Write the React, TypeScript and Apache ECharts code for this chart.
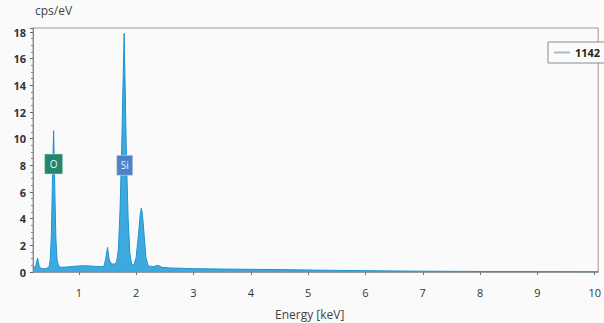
import React, { useEffect, useRef } from "react";
import * as echarts from "echarts";

const seriesName = "1142";
const energy = [
  0.2, 0.22, 0.25, 0.28, 0.31, 0.35, 0.4, 0.45, 0.48, 0.5, 0.52, 0.535, 0.55, 0.56, 0.57, 0.585, 0.6, 0.62, 0.65,
  0.7, 0.8, 0.9, 1.0, 1.1, 1.2, 1.3, 1.4, 1.44, 1.47, 1.5, 1.53, 1.57, 1.62, 1.66, 1.69, 1.72, 1.75, 1.77, 1.79,
  1.81, 1.83, 1.86, 1.89, 1.92, 1.96, 2.0, 2.04, 2.07, 2.09, 2.11, 2.14, 2.17, 2.21, 2.3, 2.38, 2.45, 2.6, 3.0,
  3.5, 4.0, 4.5, 5.0, 5.5, 6.0, 7.0, 8.0, 9.0, 10.0, 10.06,
];
const cps = [
  0.25, 0.3, 0.5, 1.05, 0.4, 0.25, 0.25, 0.3, 0.4, 0.9, 2.7, 5.8, 8.9, 10.6, 8.6, 5.2, 2.4, 0.9, 0.4,
  0.35, 0.38, 0.42, 0.45, 0.47, 0.45, 0.42, 0.4, 0.45, 1.0, 1.85, 0.9, 0.6, 0.6, 0.75, 1.7, 4.8, 9.8, 14, 17.9,
  13.5, 8.5, 4.0, 1.4, 0.6, 0.5, 1.1, 2.8, 4.3, 4.8, 4.3, 2.7, 1.1, 0.45, 0.4, 0.5, 0.35, 0.3, 0.25,
  0.22, 0.2, 0.18, 0.15, 0.12, 0.1, 0.06, 0.04, 0.03, 0.02, 0.02,
];
const elements = ["O", "Si"];
const elementEnergy = [0.56, 1.8];
const elementY = [8.1, 8.0];
const elementColors = ["#23876a", "#4a84c6"];
const xTicks = [1, 2, 3, 4, 5, 6, 7, 8, 9, 10];

export default function App() {
  const ref = useRef<HTMLDivElement>(null);
  useEffect(() => {
    const chart = echarts.init(ref.current!, null, { renderer: "svg" });
    const font = "'Open Sans', sans-serif";
    chart.setOption({
      animation: false,
      backgroundColor: "#fafafa",
      textStyle: { fontFamily: font },
      grid: { left: 33, right: 0, top: 28, bottom: 51, show: true, borderColor: "#9a9a9a", borderWidth: 1 },
      legend: {
        left: 548,
        top: 42,
        itemWidth: 16,
        itemHeight: 2,
        icon: "rect",
        padding: [5, 24, 5, 6],
        borderColor: "#8a8a8a",
        borderWidth: 1,
        backgroundColor: "#fbfbfb",
        textStyle: { color: "#222", fontSize: 11, fontWeight: "bold", fontFamily: font },
        data: [{ name: seriesName, itemStyle: { color: "#9dbdd4" } }],
      },
      xAxis: {
        type: "value",
        min: 0.2,
        max: 10.06,
        axisLine: { show: true, lineStyle: { color: "#9a9a9a" } },
        axisTick: { show: true, customValues: xTicks, length: 3, lineStyle: { color: "#777" } },
        axisLabel: { customValues: xTicks, color: "#333", fontSize: 11, margin: 15, fontFamily: font },
        splitLine: { show: false },
      },
      yAxis: {
        type: "value",
        min: 0,
        max: 18.3,
        interval: 2,
        axisLine: { show: true, lineStyle: { color: "#888" } },
        axisTick: { show: true, length: 3, lineStyle: { color: "#666" } },
        minorTick: { show: true, splitNumber: 4, length: 2, lineStyle: { color: "#888" } },
        axisLabel: {
          color: "#333",
          fontSize: 11,
          fontWeight: "bold",
          margin: 7,
          fontFamily: font,
          formatter: (v: number) => (v > 18.1 ? "" : String(v)),
        },
        splitLine: { show: false },
      },
      graphic: [
        { type: "text", left: 35, top: 4, style: { text: "cps/eV", fill: "#444", font: `12px ${font}` } },
        { type: "text", left: 275, top: 308, style: { text: "Energy [keV]", fill: "#444", font: `12px ${font}` } },
      ],
      series: [
        {
          name: seriesName,
          type: "line",
          symbol: "none",
          data: energy.map((e, i) => [e, cps[i]]),
          lineStyle: { color: "#1d94d2", width: 1 },
          itemStyle: { color: "#9dbdd4" },
          areaStyle: { color: "#2ea2dc", opacity: 0.92 },
          markPoint: {
            symbol: "rect",
            data: elements.map((el, i) => ({
              name: el,
              coord: [elementEnergy[i], elementY[i]],
              symbolSize: i === 0 ? [18, 20] : [16, 20],
              itemStyle: { color: elementColors[i], borderColor: "#dde", borderWidth: 0.5 },
              label: { show: true, formatter: el, color: "#eef", fontSize: 10, fontFamily: font },
            })),
          },
        },
      ],
    });
    return () => chart.dispose();
  }, []);
  return <div ref={ref} style={{ width: 604, height: 323, position: "absolute", left: 0, top: 0 }} />;
}
